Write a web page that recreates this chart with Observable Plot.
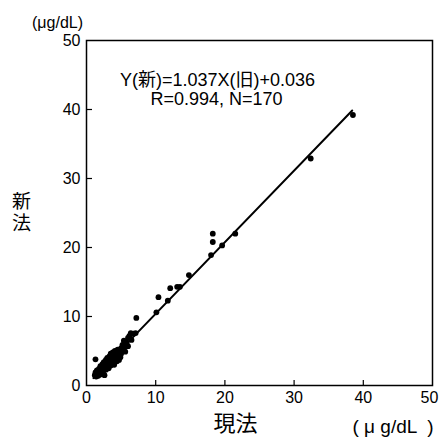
<!DOCTYPE html>
<html><head><meta charset="utf-8">
<script src="https://cdn.jsdelivr.net/npm/d3@7"></script>
<script src="https://cdn.jsdelivr.net/npm/@observablehq/plot@0.6"></script>
<style>body{margin:0;background:#fff}</style>
</head><body><div id="c"></div>
<script>
// 現法 (old method) values
const oldMethod = [
  1.2,1.3,1.4,1.5,1.6,1.7,1.8,1.9,2.0,2.0,2.1,2.2,2.3,2.3,2.4,2.5,2.5,2.6,2.7,2.8,
  2.8,2.9,3.0,3.0,3.1,3.2,3.2,3.3,3.4,3.5,3.5,3.6,3.7,3.8,3.9,4.0,4.0,4.1,4.2,4.3,
  4.4,4.5,4.6,4.7,4.8,5.0,5.0,5.2,5.3,5.4,5.5,5.6,5.8,6.0,6.0,6.2,6.5,6.8,1.3,4.9,
  6.4,7.1,7.2,10.1,10.4,11.75,12.1,13.1,13.5,14.8,18.0,18.25,18.25,19.6,21.5,32.4,38.5
];
// 新法 (new method) values
const newMethod = [
  1.5,1.9,1.3,2.2,1.7,1.4,2.4,1.9,2.8,1.6,2.2,1.9,2.6,3.1,2.0,2.4,3.4,1.5,2.9,2.3,
  3.7,3.2,2.7,4.0,3.5,2.5,3.0,4.2,3.6,2.9,4.6,3.3,4.0,4.8,3.6,4.3,3.0,5.0,4.0,4.6,
  3.5,5.2,4.4,3.7,5.0,5.4,4.6,5.9,5.1,6.5,5.6,4.9,6.2,6.9,5.7,7.2,6.6,7.5,3.8,4.1,
  7.6,7.6,9.8,10.6,12.8,12.3,14.1,14.3,14.3,16.0,18.9,20.8,22.0,20.3,22.0,32.9,39.2
];
// regression line Y(新)=1.037X(旧)+0.036, end points
const fitOld = [1.0, 38.4];
const fitNew = [1.07, 39.86];
const tickValues = [0, 10, 20, 30, 40, 50];

const points = oldMethod.map((x, i) => ({x, y: newMethod[i]}));
const fit = fitOld.map((x, i) => ({x, y: fitNew[i]}));

const sans = "'Liberation Sans', Arial, 'Noto Sans CJK JP', sans-serif";

const plot = Plot.plot({
  width: 439, height: 445,
  marginLeft: 86, marginRight: 7, marginTop: 40, marginBottom: 60,
  style: {fontFamily: sans, fontSize: "16px", color: "#000", background: "#fff"},
  x: {domain: [0, 50]},
  y: {domain: [0, 50]},
  marks: [
    Plot.frame({stroke: "#000", strokeWidth: 1.5}),
    Plot.axisX(tickValues.slice(0, -1), {tickSize: 0, tickPadding: 6, label: null, fontSize: 16}),
    Plot.axisX(tickValues.slice(-1), {tickSize: 0, tickPadding: 6, label: null, fontSize: 16, dx: -3}),
    Plot.axisY(tickValues, {tickSize: 0, tickPadding: 6, label: null, fontSize: 16}),
    Plot.tickX(tickValues.slice(1, -1), {x: d => d, insetTop: 340, stroke: "#000", strokeWidth: 1.2}),
    Plot.tickY(tickValues.slice(1, -1), {y: d => d, insetRight: 340, stroke: "#000", strokeWidth: 1.2}),
    Plot.line(fit, {x: "x", y: "y", stroke: "#000", strokeWidth: 2}),
    Plot.dot(points, {x: "x", y: "y", fill: "#000", r: 2.9}),
    Plot.text(["Y(新)=1.037X(旧)+0.036"], {frameAnchor: "top-left", dx: 131, dy: 33, textAnchor: "middle", fontSize: 18, fontFamily: sans}),
    Plot.text(["R=0.994, N=170"], {frameAnchor: "top-left", dx: 130, dy: 52, textAnchor: "middle", fontSize: 18, fontFamily: sans}),
    Plot.text(["(μg/dL)"], {frameAnchor: "top-left", dx: -29, dy: -24, textAnchor: "middle", fontSize: 16, fontFamily: sans}),
    Plot.text(["新"], {frameAnchor: "left", dx: -65, dy: -11, textAnchor: "middle", fontSize: 19, fontFamily: sans}),
    Plot.text(["法"], {frameAnchor: "left", dx: -65, dy: 11, textAnchor: "middle", fontSize: 19, fontFamily: sans}),
    Plot.text(["現法"], {frameAnchor: "bottom-left", dx: 149, dy: 45, textAnchor: "middle", fontSize: 22, fontFamily: sans}),
    Plot.text(["( μ g/dL  )"], {frameAnchor: "bottom-left", dx: 347, dy: 47, textAnchor: "end", fontSize: 19, fontFamily: sans})
  ]
});
document.getElementById("c").appendChild(plot);
</script>
</body></html>
